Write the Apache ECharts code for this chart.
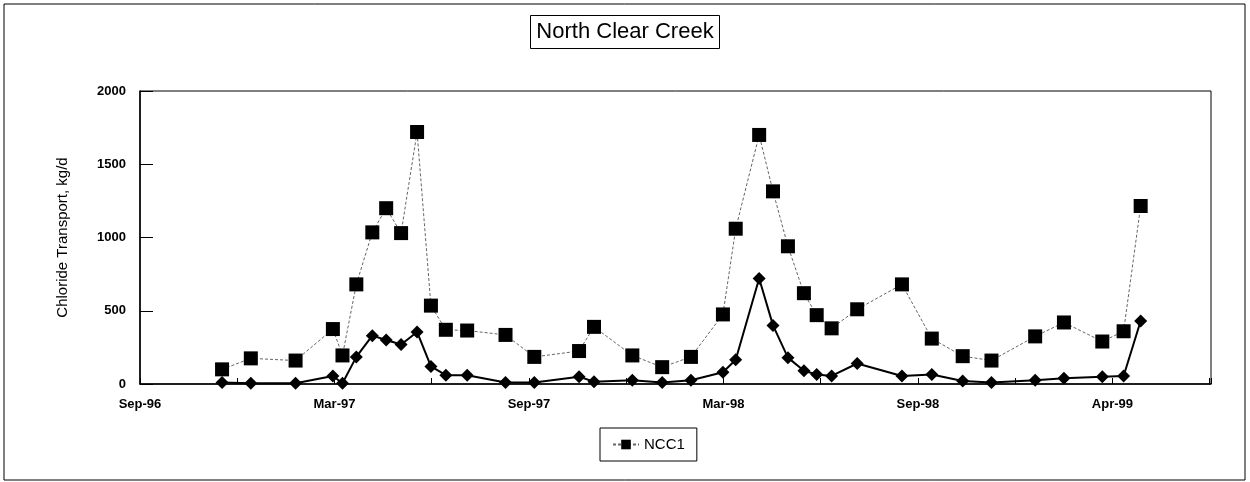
<!DOCTYPE html>
<html>
<head>
<meta charset="utf-8">
<title>North Clear Creek</title>
<script src="https://cdn.jsdelivr.net/npm/echarts@6/dist/echarts.min.js"></script>
<style>
  html, body { margin: 0; padding: 0; background: #fff; }
  #main { width: 1250px; height: 482px; }
</style>
</head>
<body>
<div id="main"></div>
<script>
// sample dates
const sampleDates = [
  '1996-12-01', '1996-12-28', '1997-02-08', '1997-03-15', '1997-03-24', '1997-04-06',
  '1997-04-21', '1997-05-04', '1997-05-18', '1997-06-02', '1997-06-15', '1997-06-29',
  '1997-07-19', '1997-08-24', '1997-09-20', '1997-11-01', '1997-11-15', '1997-12-21',
  '1998-01-18', '1998-02-14', '1998-03-16', '1998-03-28', '1998-04-19', '1998-05-02',
  '1998-05-16', '1998-05-31', '1998-06-12', '1998-06-26', '1998-07-20', '1998-08-31',
  '1998-09-28', '1998-10-27', '1998-11-23', '1999-01-03', '1999-01-30', '1999-03-07',
  '1999-03-27', '1999-04-12'
]
// NCC1, squares
const ncc1 = [
  100, 175, 160, 375, 195, 680,
  1035, 1200, 1030, 1720, 535, 370,
  365, 335, 185, 225, 390, 195,
  115, 185, 475, 1060, 1700, 1315,
  940, 620, 470, 380, 510, 680,
  310, 190, 160, 325, 420, 290,
  360, 1215
]
// second series, diamonds (not in legend)
const lower = [
  10, 5, 5, 55, 5, 185,
  330, 300, 270, 355, 120, 60,
  60, 10, 10, 50, 15, 25,
  10, 25, 80, 165, 720, 400,
  180, 90, 65, 55, 140, 55,
  65, 20, 10, 25, 40, 50,
  55, 430
]
const tickLabels = ['Sep-96', 'Mar-97', 'Sep-97', 'Mar-98', 'Sep-98', 'Apr-99']

const axisStart = Date.UTC(1996, 8, 15)
const step = 182.5
const dayOf = (s) => {
  let p = s.split('-')
  return (Date.UTC(+p[0], +p[1] - 1, +p[2]) - axisStart) / 86400000
}
const pairs = (vals) => vals.map((v, i) => [dayOf(sampleDates[i]), v])

const font = 'Arial, "Liberation Sans", sans-serif'

let chart = echarts.init(document.getElementById('main'))
chart.setOption({
  animation: false,
  backgroundColor: '#fff',
  title: {
    text: 'North Clear Creek',
    left: 'center',
    top: 15,
    padding: [6, 6, 6, 6],
    borderColor: '#000',
    borderWidth: 1,
    textStyle: { fontFamily: font, fontSize: 22, fontWeight: 'normal', color: '#000' }
  },
  legend: {
    data: ['NCC1'],
    left: 600,
    top: 428,
    padding: [9, 12, 9, 12],
    borderColor: '#000',
    borderWidth: 1,
    itemWidth: 26,
    itemHeight: 12,
    itemGap: 6,
    textStyle: { fontFamily: font, fontSize: 15, color: '#000' }
  },
  grid: {
    left: 140, right: 39, top: 91, bottom: 98,
    show: true,
    borderColor: '#000',
    borderWidth: 1
  },
  xAxis: {
    type: 'value',
    min: 0,
    max: 1005,
    interval: step,
    splitLine: { show: false },
    axisLine: { lineStyle: { color: '#000', width: 1.5 } },
    axisTick: { inside: true, length: 6, lineStyle: { color: '#000' } },
    minorTick: { show: true, splitNumber: 2, length: 6, lineStyle: { color: '#000' } },
    axisLabel: {
      margin: 14,
      fontFamily: font,
      fontSize: 13,
      fontWeight: 'bold',
      color: '#000',
      formatter: (v) => {
        let i = Math.round(v / step)
        if (Math.abs(v / step - i) > 0.01) return ''
        return tickLabels[i] || ''
      }
    }
  },
  yAxis: {
    type: 'value',
    min: 0,
    max: 2000,
    interval: 500,
    name: 'Chloride Transport, kg/d',
    nameLocation: 'middle',
    nameGap: 70,
    nameTextStyle: { fontFamily: font, fontSize: 15, color: '#000' },
    splitLine: { show: false },
    axisLine: { show: true, lineStyle: { color: '#000', width: 1.5 } },
    axisTick: { show: true, inside: true, length: 13, lineStyle: { color: '#000' } },
    axisLabel: {
      margin: 14,
      fontFamily: font,
      fontSize: 13,
      fontWeight: 'bold',
      color: '#000',
      formatter: (v) => String(v)
    }
  },
  series: [
    {
      name: 'NCC1',
      type: 'line',
      data: pairs(ncc1),
      symbol: 'rect',
      symbolSize: 14,
      itemStyle: { color: '#000' },
      lineStyle: { color: '#666', width: 1, type: [3, 2] },
      z: 2
    },
    {
      name: 'Series 2',
      type: 'line',
      data: pairs(lower),
      symbol: 'diamond',
      symbolSize: 13,
      itemStyle: { color: '#000' },
      lineStyle: { color: '#000', width: 2 },
      z: 3
    }
  ],
  graphic: [{
    type: 'rect',
    shape: { x: 4, y: 4, width: 1241, height: 476 },
    style: { fill: null, stroke: '#000', lineWidth: 1 },
    silent: true
  }]
})
</script>
</body>
</html>
